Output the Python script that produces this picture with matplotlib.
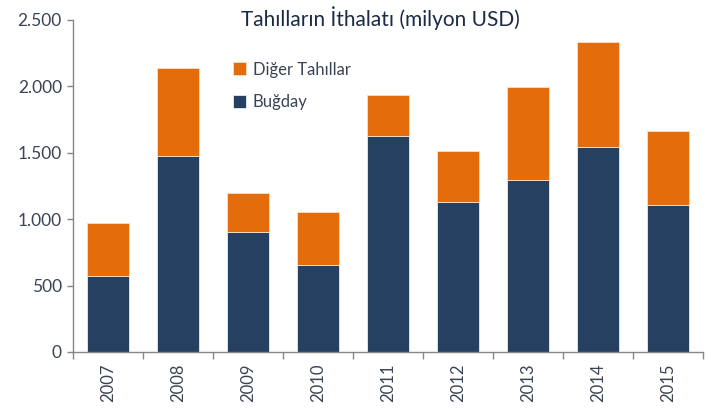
import numpy as np
import matplotlib.pyplot as plt
from matplotlib.ticker import FuncFormatter

plt.rcParams['font.family'] = ['Lato', 'DejaVu Sans']

years = ['2007', '2008', '2009', '2010', '2011', '2012', '2013', '2014', '2015']
bugday = [572, 1476, 904, 655, 1627, 1130, 1295, 1544, 1107]
diger_total = [971, 2139, 1197, 1054, 1935, 1513, 1995, 2334, 1664]
diger = [t - b for t, b in zip(diger_total, bugday)]

navy = '#264061'
orange = '#E46C0A'
text_col = '#3A4454'

fig = plt.figure(figsize=(7.24, 4.08), dpi=100)
ax = fig.add_axes([0.1008, 0.1373, 0.870, 0.8137])

x = np.arange(len(years))
ax.bar(x, bugday, width=0.6, color=navy, edgecolor='#E8ECF2', linewidth=0.6, label='Buğday')
ax.bar(x, diger, width=0.6, bottom=bugday, color=orange, edgecolor='#F8E0CC', linewidth=0.6, label='Diğer Tahıllar')

ax.set_xlim(-0.5, len(years) - 0.5)
ax.set_ylim(0, 2500)
ax.set_yticks([0, 500, 1000, 1500, 2000, 2500])
ax.yaxis.set_major_formatter(FuncFormatter(lambda v, p: f'{int(v):,}'.replace(',', '.')))

ax.set_xticks(x)
ax.set_xticklabels(years, rotation=90)
ax.set_xticks(np.arange(-0.5, len(years), 1), minor=True)
ax.tick_params(axis='x', which='major', length=0, pad=8, labelsize=12, labelcolor=text_col)
ax.tick_params(axis='x', which='minor', length=5, color='#868686', width=1)
ax.tick_params(axis='y', length=4, color='#868686', width=1, labelsize=12.5, labelcolor=text_col, pad=4)

for s in ['top', 'right']:
    ax.spines[s].set_visible(False)
for s in ['left', 'bottom']:
    ax.spines[s].set_color('#868686')
    ax.spines[s].set_linewidth(1)

handles, labels = ax.get_legend_handles_labels()
leg = ax.legend(handles[::-1], labels[::-1], loc='upper left', bbox_to_anchor=(0.23, 0.92),
                frameon=False, fontsize=12, handlelength=0.8, handleheight=0.8,
                handletextpad=0.4, labelspacing=1.0, labelcolor=text_col)

fig.text(0.525, 0.955, 'Tahılların İthalatı (milyon USD)', ha='center', va='center',
         fontsize=15, color='#1B2A45')

fig.savefig('out.png', dpi=100)
